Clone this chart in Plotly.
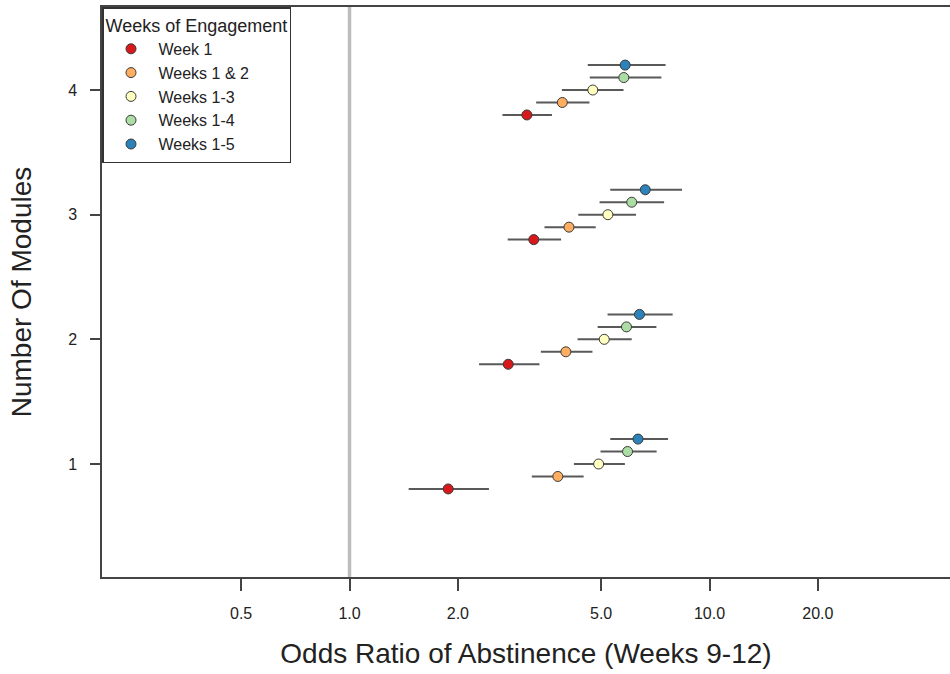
import numpy as np
import plotly.graph_objects as go

# ---- data ----
modules = [1, 2, 3, 4]
series_names = ["Week 1", "Weeks 1 & 2", "Weeks 1-3", "Weeks 1-4", "Weeks 1-5"]
series_colors = ["#D7191C", "#FDAE61", "#FFFFBF", "#ABDDA4", "#2B83BA"]

or_w1 = [1.88, 2.76, 3.25, 3.11]
lo_w1 = [1.46, 2.29, 2.75, 2.66]
hi_w1 = [2.44, 3.37, 3.87, 3.65]

or_w12 = [3.79, 3.99, 4.07, 3.90]
lo_w12 = [3.21, 3.40, 3.48, 3.30]
hi_w12 = [4.47, 4.73, 4.83, 4.64]

or_w13 = [4.92, 5.10, 5.22, 4.74]
lo_w13 = [4.20, 4.30, 4.32, 3.89]
hi_w13 = [5.82, 6.08, 6.25, 5.77]

or_w14 = [5.92, 5.88, 6.08, 5.78]
lo_w14 = [4.98, 4.89, 4.95, 4.65]
hi_w14 = [7.13, 7.12, 7.48, 7.35]

or_w15 = [6.33, 6.39, 6.63, 5.83]
lo_w15 = [5.30, 5.21, 5.30, 4.59]
hi_w15 = [7.67, 7.90, 8.39, 7.55]

x_tick_vals = [0.5, 1.0, 2.0, 5.0, 10.0, 20.0]
x_tick_text = ["0.5", "1.0", "2.0", "5.0", "10.0", "20.0"]
y_tick_vals = [1, 2, 3, 4]
reference_or = 1.0

series = [
    (or_w1, lo_w1, hi_w1),
    (or_w12, lo_w12, hi_w12),
    (or_w13, lo_w13, hi_w13),
    (or_w14, lo_w14, hi_w14),
    (or_w15, lo_w15, hi_w15),
]
DODGE = 0.1
FONT = "Liberation Sans, Arial, sans-serif"

fig = go.Figure()
n = len(series)
for i, ((est, lo, hi), name, col) in enumerate(zip(series, series_names, series_colors)):
    offset = (i - (n - 1) / 2) * DODGE
    est_a = np.array(est)
    fig.add_trace(go.Scatter(
        x=est,
        y=[m + offset for m in modules],
        mode="markers",
        name=name,
        marker=dict(size=10, color=col, line=dict(color="#3a3a3a", width=1)),
        error_x=dict(
            type="data", symmetric=False,
            array=(np.array(hi) - est_a).tolist(),
            arrayminus=(est_a - np.array(lo)).tolist(),
            color="#595959", thickness=2, width=0,
        ),
    ))

fig.add_shape(type="line", xref="x", yref="paper",
              x0=reference_or, x1=reference_or, y0=0, y1=1,
              line=dict(color="#bdbdbd", width=3.5), layer="below")

fig.update_layout(
    width=950, height=674,
    margin=dict(l=102, r=0, t=7, b=97, autoexpand=False),
    paper_bgcolor="white", plot_bgcolor="white",
    font=dict(family=FONT, color="#222222"),
    showlegend=True,
    legend=dict(
        x=0, y=1, xanchor="left", yanchor="top",
        bgcolor="white", bordercolor="#333333", borderwidth=1.5,
        title=dict(text="Weeks of Engagement", font=dict(size=18, family=FONT)),
        font=dict(size=16, family=FONT),
        itemwidth=45,
        tracegroupgap=0,
    ),
    xaxis=dict(
        type="log", automargin=False,
        range=[-0.6875, 1.668],
        tickvals=x_tick_vals, ticktext=x_tick_text,
        ticks="outside", ticklen=12, tickwidth=1.5, tickcolor="#444444",
        tickfont=dict(size=16, family=FONT),
        ticklabelstandoff=9,
        showgrid=False, zeroline=False,
        showline=True, linecolor="#444444", linewidth=1.5, mirror=True,
        title=dict(text="Odds Ratio of Abstinence (Weeks 9-12)",
                   font=dict(size=28, family=FONT), standoff=22),
    ),
    yaxis=dict(
        automargin=False,
        range=[0.0936, 4.666],
        tickvals=y_tick_vals,
        ticks="outside", ticklen=10, tickwidth=1.5, tickcolor="#444444",
        tickfont=dict(size=16, family=FONT),
        ticklabelstandoff=10,
        showgrid=False, zeroline=False,
        showline=True, linecolor="#444444", linewidth=1.5, mirror=False,
        title=dict(text="Number Of Modules",
                   font=dict(size=28, family=FONT), standoff=28),
    ),
)

fig.write_html(
    "out.html",
    config={"displayModeBar": False},
    post_script="document.body.style.margin='0';document.body.style.overflow='hidden';",
)
